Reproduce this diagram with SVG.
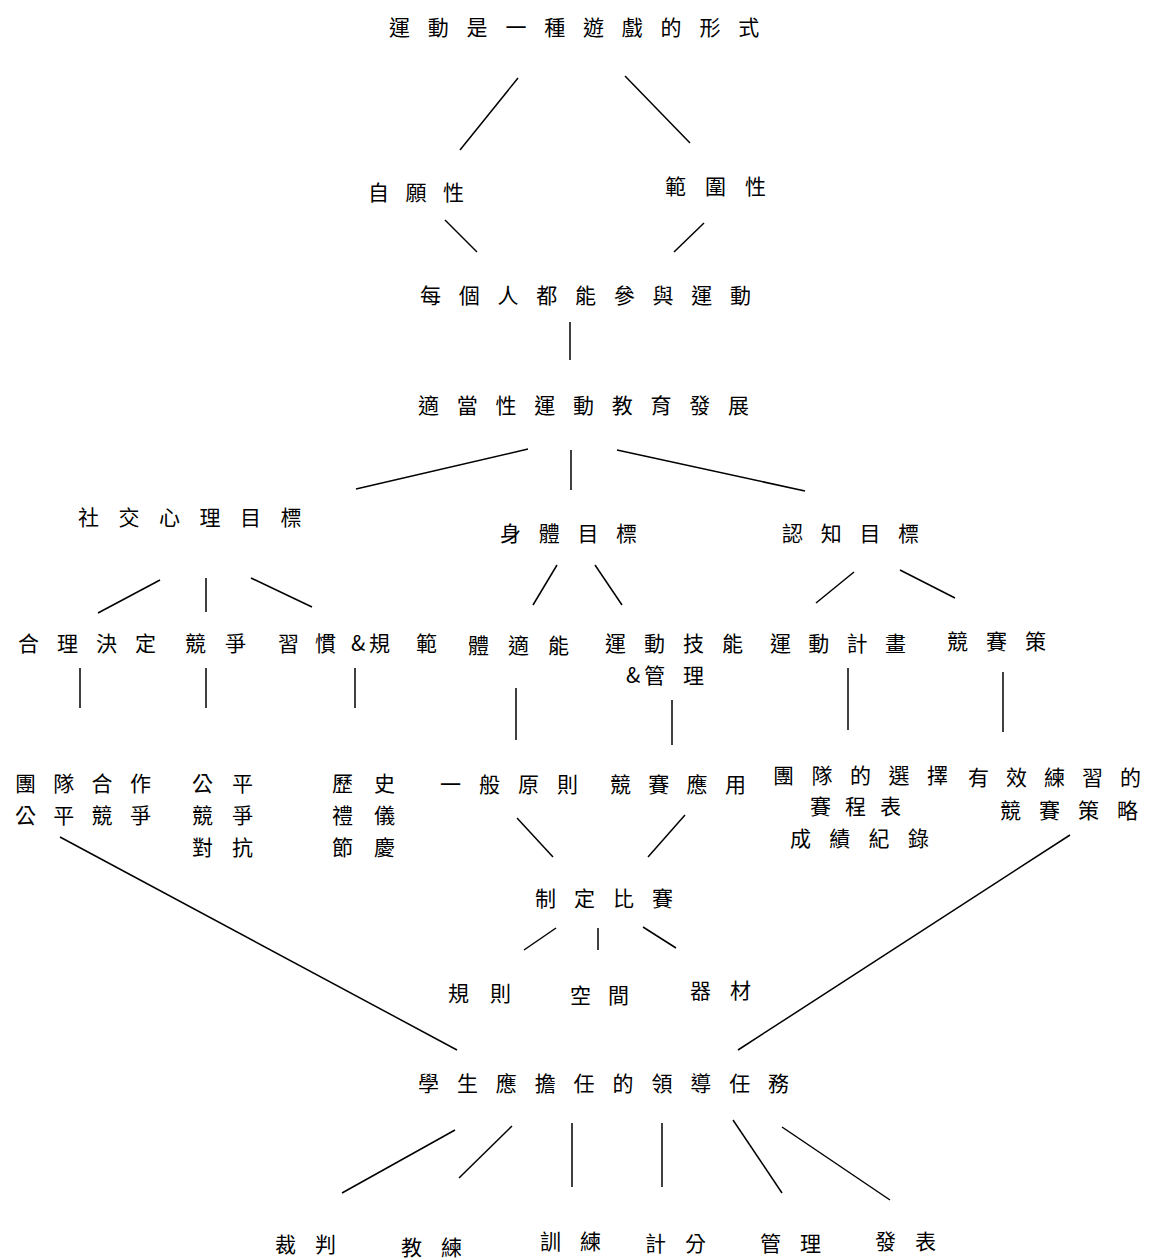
<svg xmlns="http://www.w3.org/2000/svg" width="1163" height="1260" viewBox="0 0 1163 1260">
<style>
text{font-family:"Noto Sans CJK TC","Noto Sans CJK SC",sans-serif;font-size:21px;fill:#000}
.c line{stroke:#000;stroke-width:1.5;fill:none}
</style>
<rect width="1163" height="1260" fill="#fff"/>
<g id="n_title"><text x="389" y="35" letter-spacing="17.8">運動是一種遊戲的形式</text></g>
<g id="n_ziyuan"><text x="368" y="200" letter-spacing="16.5">自願性</text></g>
<g id="n_fanwei"><text x="665" y="194" letter-spacing="19">範圍性</text></g>
<g id="n_meige"><text x="420" y="303" letter-spacing="17.75">每個人都能參與運動</text></g>
<g id="n_shidang"><text x="418" y="413" letter-spacing="17.75">適當性運動教育發展</text></g>
<g id="n_shejiao"><text x="78" y="525" letter-spacing="19.5">社交心理目標</text></g>
<g id="n_shenti"><text x="500" y="541" letter-spacing="17.7">身體目標</text></g>
<g id="n_renzhi"><text x="782" y="541" letter-spacing="17.7">認知目標</text></g>
<g id="n_heli"><text x="18" y="651" letter-spacing="18">合理決定</text></g>
<g id="n_jingzheng"><text x="185" y="651" letter-spacing="19">競爭</text></g>
<g id="n_xiguan"><text x="278" y="651">習</text><text x="315" y="651">慣</text><text x="351" y="651">&amp;</text><text x="369" y="651">規</text><text x="416" y="651">範</text></g>
<g id="n_tishineng"><text x="468" y="653" letter-spacing="19">體適能</text></g>
<g id="n_jineng"><text x="605" y="651" letter-spacing="18">運動技能</text><text x="626" y="683">&amp;</text><text x="644" y="683">管</text><text x="683" y="683">理</text></g>
<g id="n_jihua"><text x="770" y="651" letter-spacing="17.3">運動計畫</text></g>
<g id="n_jingsaice"><text x="947" y="649" letter-spacing="18">競賽策</text></g>
<g id="n_tuandui"><text x="15" y="791" letter-spacing="17.3">團隊合作</text><text x="15" y="823" letter-spacing="17.3">公平競爭</text></g>
<g id="n_gongping"><text x="192" y="791" letter-spacing="19">公平</text><text x="192" y="823" letter-spacing="19">競爭</text><text x="192" y="855" letter-spacing="19">對抗</text></g>
<g id="n_lishi"><text x="332" y="791" letter-spacing="21">歷史</text><text x="332" y="823" letter-spacing="21">禮儀</text><text x="332" y="855" letter-spacing="21">節慶</text></g>
<g id="n_yiban"><text x="440" y="792" letter-spacing="18">一般原則</text></g>
<g id="n_yingyong"><text x="610" y="792" letter-spacing="17.3">競賽應用</text></g>
<g id="n_xuanze"><text x="773" y="783" letter-spacing="17.5">團隊的選擇</text><text x="810" y="814" letter-spacing="14">賽程表</text><text x="790" y="846" letter-spacing="18.3">成績紀錄</text></g>
<g id="n_youxiao"><text x="968" y="785" letter-spacing="17">有效練習的</text><text x="1000" y="818" letter-spacing="18">競賽策略</text></g>
<g id="n_zhiding"><text x="535" y="906" letter-spacing="18">制定比賽</text></g>
<g id="n_guize"><text x="448" y="1001" letter-spacing="21">規則</text></g>
<g id="n_kongjian"><text x="570" y="1003" letter-spacing="17">空間</text></g>
<g id="n_qicai"><text x="690" y="998" letter-spacing="19">器材</text></g>
<g id="n_xuesheng"><text x="418" y="1091" letter-spacing="17.9">學生應擔任的領導任務</text></g>
<g id="n_caipan"><text x="275" y="1252" letter-spacing="19">裁判</text></g>
<g id="n_jiaolian"><text x="401" y="1255" letter-spacing="19">教練</text></g>
<g id="n_xunlian"><text x="540" y="1249" letter-spacing="19">訓練</text></g>
<g id="n_jifen"><text x="645" y="1251" letter-spacing="19">計分</text></g>
<g id="n_guanli"><text x="760" y="1251" letter-spacing="19">管理</text></g>
<g id="n_fabiao"><text x="875" y="1249" letter-spacing="19">發表</text></g>
<g id="connectors" class="c">
<line x1="518" y1="78" x2="460" y2="150"/>
<line x1="625" y1="76" x2="690" y2="143"/>
<line x1="445" y1="220" x2="477" y2="252"/>
<line x1="704" y1="223" x2="674" y2="252"/>
<line x1="570" y1="322" x2="570" y2="360"/>
<line x1="528" y1="449" x2="356" y2="489"/>
<line x1="571" y1="450" x2="571" y2="490"/>
<line x1="617" y1="450" x2="805" y2="491"/>
<line x1="160" y1="580" x2="98" y2="613"/>
<line x1="206" y1="578" x2="206" y2="612"/>
<line x1="251" y1="578" x2="312" y2="607"/>
<line x1="557" y1="565" x2="533" y2="605"/>
<line x1="595" y1="565" x2="622" y2="605"/>
<line x1="854" y1="572" x2="816" y2="603"/>
<line x1="900" y1="570" x2="955" y2="598"/>
<line x1="80" y1="668" x2="80" y2="708"/>
<line x1="206" y1="668" x2="206" y2="708"/>
<line x1="355" y1="668" x2="355" y2="708"/>
<line x1="516" y1="688" x2="516" y2="740"/>
<line x1="672" y1="700" x2="672" y2="745"/>
<line x1="848" y1="668" x2="848" y2="730"/>
<line x1="1003" y1="672" x2="1003" y2="732"/>
<line x1="517" y1="818" x2="553" y2="857"/>
<line x1="685" y1="815" x2="648" y2="857"/>
<line x1="556" y1="928" x2="524" y2="950"/>
<line x1="598" y1="928" x2="598" y2="950"/>
<line x1="643" y1="927" x2="676" y2="948"/>
<line x1="60" y1="837" x2="457" y2="1050"/>
<line x1="1070" y1="835" x2="738" y2="1050"/>
<line x1="455" y1="1130" x2="342" y2="1193"/>
<line x1="512" y1="1126" x2="459" y2="1178"/>
<line x1="572" y1="1123" x2="572" y2="1187"/>
<line x1="662" y1="1123" x2="662" y2="1187"/>
<line x1="733" y1="1120" x2="782" y2="1193"/>
<line x1="782" y1="1127" x2="890" y2="1200"/>
</g>
</svg>
